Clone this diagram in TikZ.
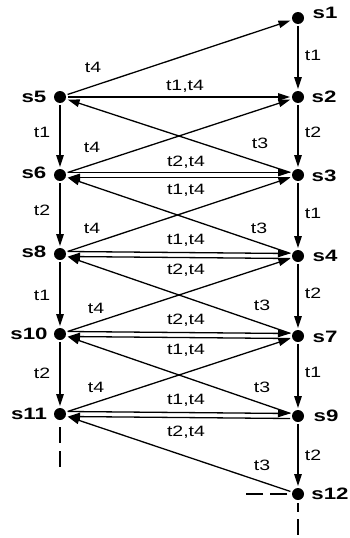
\documentclass[tikz,border=0pt]{standalone}
\usepackage{fontspec}
\newfontfamily\edgefont{Liberation Sans}[FakeStretch=1.3]
\newfontfamily\statefont{Liberation Sans}[FakeStretch=1.35]
\usetikzlibrary{arrows.meta}
\begin{document}
\begin{tikzpicture}[x=1pt,y=-1pt,
  st/.style={circle,fill=black,minimum size=12pt,inner sep=0pt,outer sep=2pt},
  sl/.style={font=\statefont\bfseries\fontsize{16.5}{17}\selectfont,inner sep=0pt},
  el/.style={font=\edgefont\fontsize{15}{16}\selectfont,inner sep=0pt},
  tr/.style={line width=1.3pt,-{Triangle[length=12pt,width=7.5pt]}},
  stub/.style={line width=1.3pt}]
\useasboundingbox (0,0) rectangle (349,538);
% states
\node[st] (s1) at (298,18) {};
\node[st] (s2) at (298,97) {};
\node[st] (s3) at (298,175) {};
\node[st] (s4) at (298,256) {};
\node[st] (s7) at (298,336) {};
\node[st] (s9) at (298,416) {};
\node[st] (s12) at (298,494) {};
\node[st] (s5) at (60,97) {};
\node[st] (s6) at (60,175) {};
\node[st] (s8) at (60,254) {};
\node[st] (s10) at (60,334) {};
\node[st] (s11) at (60,414) {};
% state labels
\node[sl] (l1) at (325,13) {s1};
\node[sl] (l2) at (324,97) {s2};
\node[sl] (l3) at (324,176) {s3};
\node[sl] (l4) at (325,256) {s4};
\node[sl] (l7) at (325,337) {s7};
\node[sl] (l9) at (326,416) {s9};
\node[sl] (l12) at (330,494) {s12};
\node[sl] (l5) at (34,97) {s5};
\node[sl] (l6) at (34,173) {s6};
\node[sl] (l8) at (34,252) {s8};
\node[sl] (l10) at (29,334) {s10};
\node[sl] (l11) at (29,414) {s11};
% stubs
\coordinate (e11) at (60,468);
\coordinate (e12l) at (245,494);
\coordinate (e12d) at (298,536);
\draw[stub,dash pattern=on 16pt off 8pt,dash phase=11pt] (s11.center) -- (e11);
\draw[stub,dash pattern=on 17pt off 7pt,dash phase=13pt] (s12.center) -- (e12l);
\draw[stub,dash pattern=on 0pt off 9pt on 9pt off 7pt on 16pt off 10pt] (s12.center) -- (e12d);
% vertical transitions
\draw[tr] (s1) -- (s2);
\draw[tr] (s2) -- (s3);
\draw[tr] (s3) -- (s4);
\draw[tr] (s4) -- (s7);
\draw[tr] (s7) -- (s9);
\draw[tr] (s9) -- (s12);
\draw[tr] (s5) -- (s6);
\draw[tr] (s6) -- (s8);
\draw[tr] (s8) -- (s10);
\draw[tr] (s10) -- (s11);
% diagonal transitions
\draw[tr] (s5) -- (s1);
\draw[tr] (s6) -- (s2);
\draw[tr] (s8) -- (s3);
\draw[tr] (s10) -- (s4);
\draw[tr] (s11) -- (s7);
\draw[tr] (s3) -- (s5);
\draw[tr] (s4) -- (s6);
\draw[tr] (s7) -- (s8);
\draw[tr] (s9) -- (s10);
\draw[tr] (s12) -- (s11);
% horizontal transitions
\draw[tr] (s5) -- (s2);
\draw[tr] ([yshift=2.5pt]s6.east) -- ([yshift=2.5pt]s3.west);
\draw[tr] ([yshift=-2.5pt]s3.west) -- ([yshift=-2.5pt]s6.east);
\draw[tr] ([yshift=2.5pt]s8.east) -- ([yshift=2.5pt]s4.west);
\draw[tr] ([yshift=-2.5pt]s4.west) -- ([yshift=-2.5pt]s8.east);
\draw[tr] ([yshift=2.5pt]s10.east) -- ([yshift=2.5pt]s7.west);
\draw[tr] ([yshift=-2.5pt]s7.west) -- ([yshift=-2.5pt]s10.east);
\draw[tr] ([yshift=2.5pt]s11.east) -- ([yshift=2.5pt]s9.west);
\draw[tr] ([yshift=-2.5pt]s9.west) -- ([yshift=-2.5pt]s11.east);
% transition labels
\node[el] (a1) at (313,55) {t1};
\node[el] (a2) at (313,132) {t2};
\node[el] (a3) at (313,213) {t1};
\node[el] (a4) at (313,293) {t2};
\node[el] (a5) at (313,372) {t1};
\node[el] (a6) at (313,455) {t2};
\node[el] (b1) at (42,132) {t1};
\node[el] (b2) at (42,210) {t2};
\node[el] (b3) at (42,295) {t1};
\node[el] (b4) at (42,373) {t2};
\node[el] (c1) at (93,67) {t4};
\node[el] (c2) at (92,147) {t4};
\node[el] (c3) at (92,228) {t4};
\node[el] (c4) at (96,308) {t4};
\node[el] (c5) at (96,387) {t4};
\node[el] (d1) at (260,143) {t3};
\node[el] (d2) at (259,228) {t3};
\node[el] (d3) at (262,305) {t3};
\node[el] (d4) at (262,387) {t3};
\node[el] (d5) at (262,465) {t3};
\node[el] (h1) at (185,86) {t1,t4};
\node[el] (h2) at (186,162) {t2,t4};
\node[el] (h3) at (186,190) {t1,t4};
\node[el] (h4) at (186,240) {t1,t4};
\node[el] (h5) at (186,270) {t2,t4};
\node[el] (h6) at (186,320) {t2,t4};
\node[el] (h7) at (186,350) {t1,t4};
\node[el] (h8) at (186,400) {t1,t4};
\node[el] (h9) at (186,432) {t2,t4};
\end{tikzpicture}
\end{document}
